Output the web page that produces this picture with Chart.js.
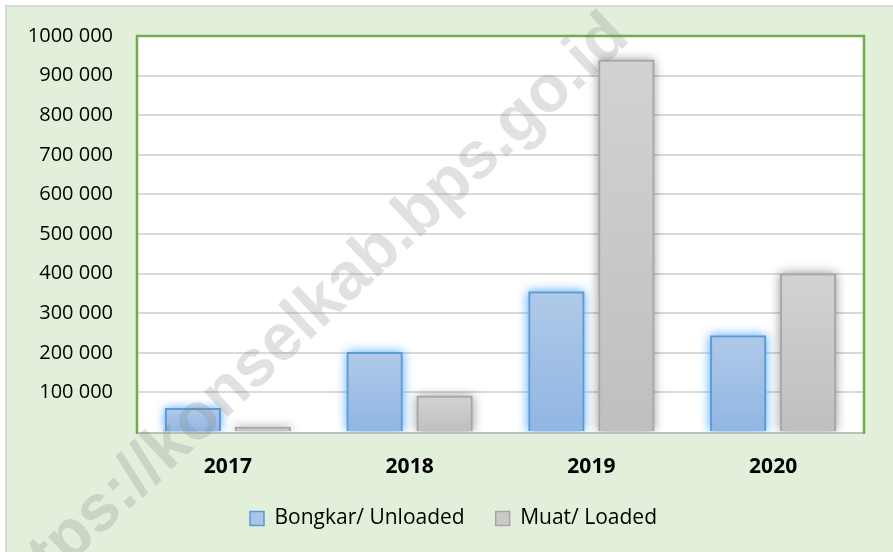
<!DOCTYPE html>
<html>
<head>
<meta charset="utf-8">
<script src="https://cdn.jsdelivr.net/npm/chart.js@4.4.1/dist/chart.umd.min.js"></script>
<style>
  html, body { margin: 0; padding: 0; background: #fff; }
  canvas { display: block; }
</style>
</head>
<body>
<canvas id="chart" width="893" height="552"></canvas>
<script>
// data
const years = ['2017', '2018', '2019', '2020'];
const bongkar = [60500, 202000, 355000, 244000];
const muat = [13000, 91500, 940000, 400500];
const seriesNames = ['Bongkar/ Unloaded', 'Muat/ Loaded'];
const yMax = 1000000;
const yStep = 100000;
const watermark = 'https://konselkab.bps.go.id';

// "1000 000" style labels, zero left blank
function fmt(v) {
    if (v === 0) return '';
    return Math.floor(v / 1000) + ' ' + String(v % 1000).padStart(3, '0');
}

// vertical gradient per bar (lighter at the top)
function barGradient(topCol, bottomCol) {
    return function (c) {
        const chart = c.chart;
        const y = chart.scales.y;
        if (!y || c.type !== 'data') return bottomCol;
        const yTop = y.getPixelForValue(c.raw);
        const yBase = y.getPixelForValue(0);
        const g = chart.ctx.createLinearGradient(0, yTop, 0, yBase);
        g.addColorStop(0, topCol);
        g.addColorStop(1, bottomCol);
        return g;
    };
}

const glow = ['rgba(70,165,255,0.95)', 'rgba(0,0,0,0.42)'];
const legendFill = ['#a9c5e8', '#c9c9c9'];

const decor = {
    id: 'decor',
    afterLayout(chart) {
        // legend sits a little right of the canvas centre in the original
        chart.legend.left += 21.5;
        chart.legend.right += 21.5;
    },
    beforeDraw(chart) {
        const { ctx, width, height, chartArea: a } = chart;
        ctx.save();
        ctx.fillStyle = '#ffffff';
        ctx.fillRect(0, 0, width, height);
        ctx.fillStyle = '#d9d9d9';
        ctx.fillRect(5, 5, width - 5, height - 5);
        ctx.fillStyle = '#e2efda';
        ctx.fillRect(7, 7, width - 7, height - 7);
        ctx.fillStyle = '#ffffff';
        ctx.fillRect(a.left, a.top, a.right - a.left, a.bottom - a.top);
        ctx.restore();
    },
    beforeDatasetDraw(chart, args) {
        // soft glow / shadow behind the bars
        const { ctx, chartArea: a } = chart;
        ctx.save();
        ctx.beginPath();
        ctx.rect(a.left, a.top, a.right - a.left, a.bottom - a.top);
        ctx.clip();
        ctx.shadowColor = glow[args.index];
        ctx.shadowBlur = 10;
        ctx.fillStyle = args.index === 0 ? '#8fb4e3' : '#c0c0c0';
        args.meta.data.forEach(el => {
            ctx.fillRect(el.x - el.width / 2, el.y, el.width, el.base - el.y);
        });
        ctx.restore();
    },
    afterDatasetsDraw(chart) {
        const { ctx, chartArea: a } = chart;
        ctx.save();
        ctx.strokeStyle = '#bfbfbf';
        ctx.lineWidth = 2;
        ctx.beginPath();
        ctx.moveTo(a.left, a.bottom + 1);
        ctx.lineTo(a.right, a.bottom + 1);
        ctx.stroke();
        ctx.strokeStyle = '#70ad47';
        ctx.lineWidth = 2.5;
        ctx.beginPath();
        ctx.moveTo(a.left, a.bottom + 2);
        ctx.lineTo(a.left, a.top);
        ctx.lineTo(a.right, a.top);
        ctx.lineTo(a.right, a.bottom + 2);
        ctx.stroke();
        ctx.restore();
    },
    afterDraw(chart) {
        const ctx = chart.ctx;
        ctx.save();
        ctx.translate(307, 318);
        ctx.rotate(-43 * Math.PI / 180);
        ctx.font = 'bold 66px "Liberation Sans", Arial, sans-serif';
        ctx.fillStyle = 'rgba(128,128,128,0.24)';
        ctx.textAlign = 'center';
        ctx.textBaseline = 'middle';
        ctx.fillText(watermark, 0, 0);
        ctx.restore();
    }
};

const ctx = document.getElementById('chart').getContext('2d');
new Chart(ctx, {
    type: 'bar',
    data: {
        labels: years,
        datasets: [{
            label: seriesNames[0],
            data: bongkar,
            backgroundColor: barGradient('#b0c9e8', '#91b6e3'),
            borderColor: '#5b9bd5',
            borderWidth: 2,
            borderSkipped: 'bottom'
        }, {
            label: seriesNames[1],
            data: muat,
            backgroundColor: barGradient('#d2d2d2', '#bfbfbf'),
            borderColor: '#a6a6a6',
            borderWidth: 2,
            borderSkipped: 'bottom'
        }]
    },
    options: {
        responsive: false,
        animation: false,
        categoryPercentage: 0.77,
        barPercentage: 0.8,
        layout: { padding: { left: 0, right: 29, top: 35, bottom: 13 } },
        scales: {
            x: {
                grid: { display: false },
                border: { display: false },
                ticks: {
                    color: '#000',
                    padding: 14,
                    font: { family: '"Open Sans"', size: 21, weight: 'bold' }
                },
                afterFit: s => { s.height = 45; }
            },
            y: {
                min: 0,
                max: yMax,
                grid: {
                    drawTicks: false,
                    lineWidth: 2,
                    color: c => (c.tick && (c.tick.value === 0 || c.tick.value === yMax)) ? 'rgba(0,0,0,0)' : '#d9d9d9'
                },
                border: { display: false },
                ticks: {
                    stepSize: yStep,
                    color: '#000',
                    padding: 24,
                    font: { family: '"Open Sans"', size: 20 },
                    callback: v => fmt(v)
                },
                afterFit: s => { s.width = 137; }
            }
        },
        plugins: {
            legend: {
                position: 'bottom',
                labels: {
                    color: '#000',
                    boxWidth: 14,
                    boxHeight: 14,
                    padding: 31,
                    font: { family: '"Open Sans"', size: 21 },
                    generateLabels: chart => chart.data.datasets.map((ds, i) => ({
                        text: ds.label,
                        fillStyle: legendFill[i],
                        strokeStyle: ds.borderColor,
                        lineWidth: 1.5,
                        fontColor: '#000',
                        hidden: false,
                        datasetIndex: i
                    }))
                }
            },
            tooltip: { enabled: false }
        }
    },
    plugins: [decor]
});
</script>
</body>
</html>
